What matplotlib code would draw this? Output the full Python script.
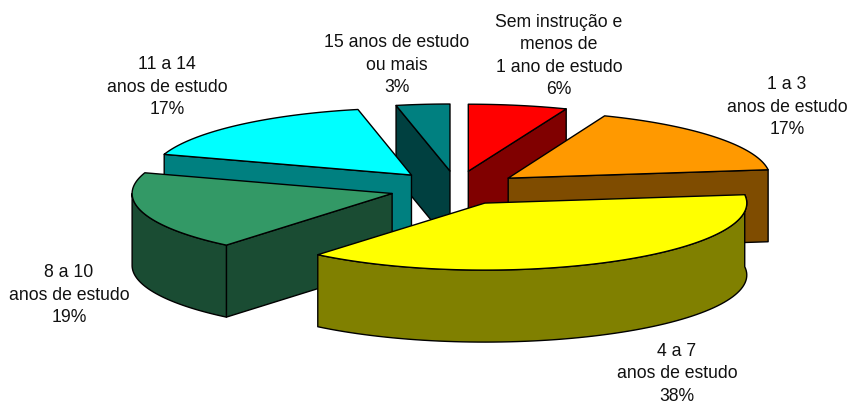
import matplotlib
matplotlib.use("Agg")
import matplotlib.pyplot as plt
import numpy as np

plt.rcParams['font.family'] = ['Liberation Sans', 'DejaVu Sans']

names = ["Sem instrução e\nmenos de\n1 ano de estudo", "1 a 3\nanos de estudo", "4 a 7\nanos de estudo",
         "8 a 10\nanos de estudo", "11 a 14\nanos de estudo", "15 anos de estudo\nou mais"]
values = [6, 17, 38, 19, 16.7, 3.3]
top_colors = ["#FF0000", "#FF9900", "#FFFF00", "#339966", "#00FFFF", "#008080"]
side_colors = ["#800000", "#7F4C00", "#808000", "#1A4C33", "#008080", "#004040"]
label_x = [559, 787, 677, 69, 167, 397]
label_y = [56, 107, 374, 295, 87, 65]
draw_order = [5, 0, 4, 1, 3, 2]

cx, cy = 456.5, 187
rx = [266, 262, 262, 260, 260, 262]
ry = 67
depth = 72
explode = 0.24
# small nudges, the original has some perspective
nudge_x = [0, 2, -2, -4, -3, 0]
nudge_y = [0, 1, 2, 2, 0, 0]


def face(ax, xs, ys, color):
    ax.fill(xs, ys, facecolor=color, edgecolor="black", lw=1.0, joinstyle="round")


fig = plt.figure(figsize=(8.48, 4.01), dpi=100)
ax = fig.add_axes([0, 0, 1, 1])
ax.set_xlim(0, 848)
ax.set_ylim(401, 0)
ax.axis("off")

edges = np.radians(np.cumsum([0] + values) * 3.6)

for i in draw_order:
    a0, a1 = edges[i], edges[i + 1]
    mid = (a0 + a1) / 2
    x0 = cx + explode * 262 * np.sin(mid) + nudge_x[i]
    y0 = cy - explode * ry * np.cos(mid) + nudge_y[i]

    def point(a):
        return x0 + rx[i] * np.sin(a), y0 - ry * np.cos(a)

    # flat cut faces that look towards the viewer
    for a, visible in [(a0, np.pi < a0 < 2 * np.pi), (a1, 0 < a1 < np.pi)]:
        if visible:
            px, py = point(a)
            face(ax, [x0, px, px, x0], [y0, py, py + depth, y0 + depth], side_colors[i])

    # outer wall, only the front half of the ellipse shows
    w0, w1 = max(a0, np.pi / 2), min(a1, 3 * np.pi / 2)
    if a0 < np.pi / 2 < a1:
        w0 = a0
    if w1 > w0:
        t = np.linspace(w0, w1, 80)
        px, py = point(t)
        face(ax, np.r_[px, px[::-1]], np.r_[py, py[::-1] + depth], side_colors[i])

    t = np.linspace(a0, a1, 120)
    px, py = point(t)
    face(ax, np.r_[x0, px], np.r_[y0, py], top_colors[i])

for i in range(len(values)):
    ax.text(label_x[i], label_y[i], f"{names[i]}\n{round(values[i])}%", ha="center", va="center",
            fontsize=12.7, linespacing=1.39, color="#111111")

fig.savefig("out.png", dpi=100)
